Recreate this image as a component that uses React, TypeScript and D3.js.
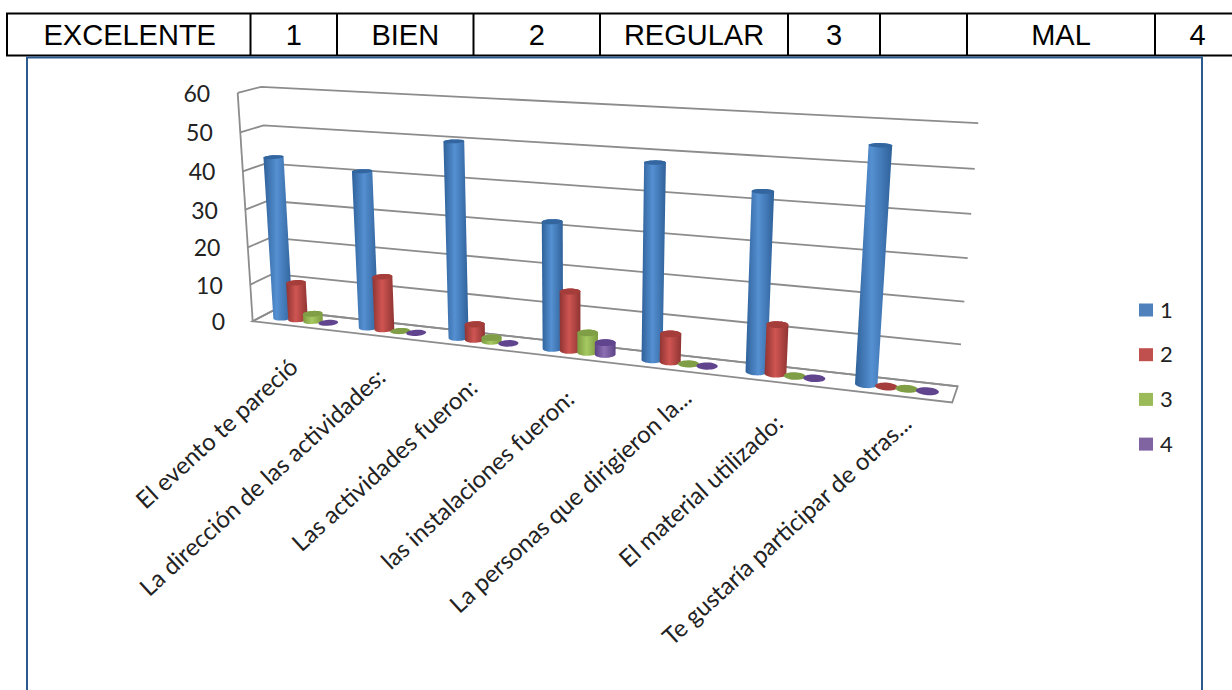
import React from "react";
import * as d3 from "d3";

const headerLabels = ["EXCELENTE", "1", "BIEN", "2", "REGULAR", "3", "", "MAL", "4"];
const categories = [
  "El evento te pareció",
  "La dirección de las actividades:",
  "Las actividades fueron:",
  "las instalaciones fueron:",
  "La personas que dirigieron la...",
  "El material utilizado:",
  "Te gustaría participar de otras...",
];
const seriesNames = ["1", "2", "3", "4"];
const series1 = [43, 41, 50, 32, 48, 43, 55];
const series2 = [10, 14, 4, 15, 7, 12, 0];
const series3 = [2, 0, 1, 5, 0, 0, 0];
const series4 = [0, 0, 0, 3, 0, 0, 0];
const allSeries = [series1, series2, series3, series4];
const valueTicks = [0, 10, 20, 30, 40, 50, 60];

const colors = [
  { edge: "#2f6199", mid: "#5590d2", top: "#33669f", flat: "#33669f" },
  { edge: "#8f3432", mid: "#cf5552", top: "#a53e3b", flat: "#a53e3b" },
  { edge: "#7c9a3f", mid: "#a6c962", top: "#7f9e45", flat: "#7f9e45" },
  { edge: "#5c4285", mid: "#8d70b4", top: "#60448e", flat: "#60448e" },
];
const legendColors = ["#4f81bd", "#c0504d", "#9bbb59", "#8064a2"];

const W = 1232;
const H = 690;
const tableEdges = [7, 250.5, 337, 473.5, 600, 788, 880, 967, 1155, 1240];

const catScale = d3.scaleLinear().domain([0, categories.length]).range([0, 1]);
const valScale = d3.scaleLinear().domain([0, 60]).range([0, 1]);

// camera calibration: [category pos, value, depth] -> screen pixel
const calib: [number, number, number, number, number][] = [
  [0, 0, 0, 253, 321], [0, 10, 0, 251, 285], [0, 20, 0, 249, 247], [0, 30, 0, 246, 210],
  [0, 40, 0, 243, 171], [0, 50, 0, 239, 132], [0, 60, 0, 236, 93],
  [0, 0, 1, 273, 310], [0, 60, 1, 263, 87],
  [7, 0, 1, 958, 386], [7, 10, 1, 961, 344], [7, 20, 1, 964, 302], [7, 30, 1, 968, 258],
  [7, 40, 1, 971, 214], [7, 50, 1, 975, 169], [7, 60, 1, 978, 123],
  [7, 0, 0, 952, 403],
];

function solve(A: number[][], b: number[]) {
  const n = b.length;
  const M = A.map((r, i) => [...r, b[i]]);
  for (let c = 0; c < n; c++) {
    let p = c;
    for (let r = c + 1; r < n; r++) if (Math.abs(M[r][c]) > Math.abs(M[p][c])) p = r;
    [M[c], M[p]] = [M[p], M[c]];
    for (let r = 0; r < n; r++) {
      if (r === c) continue;
      const f = M[r][c] / M[c][c];
      for (let k = c; k <= n; k++) M[r][k] -= f * M[c][k];
    }
  }
  return M.map((r, i) => r[n] / r[i]);
}

function fitCamera() {
  const rows: number[][] = [];
  const rhs: number[] = [];
  for (const [u, v, d, px, py] of calib) {
    const X = catScale(u), Y = valScale(v), Z = d;
    rows.push([X, Y, Z, 1, 0, 0, 0, 0, -px * X, -px * Y, -px * Z]);
    rhs.push(px);
    rows.push([0, 0, 0, 0, X, Y, Z, 1, -py * X, -py * Y, -py * Z]);
    rhs.push(py);
  }
  const n = 11;
  const A = d3.range(n).map((i) => d3.range(n).map((j) => d3.sum(rows, (r) => r[i] * r[j])));
  const b = d3.range(n).map((i) => d3.sum(rows, (r, k) => r[i] * rhs[k]));
  return solve(A, b);
}
const cam = fitCamera();

function project(u: number, v: number, d: number): [number, number] {
  const X = catScale(u), Y = valScale(v), Z = d;
  const w = cam[8] * X + cam[9] * Y + cam[10] * Z + 1;
  return [
    (cam[0] * X + cam[1] * Y + cam[2] * Z + cam[3]) / w,
    (cam[4] * X + cam[5] * Y + cam[6] * Z + cam[7]) / w,
  ];
}

const line = d3.line();
const closed = d3.line().curve(d3.curveLinearClosed);
const barStep = 0.178;
const barStart = 0.23;
const radU = 0.098;
const radD = 0.24;
const centerD = 0.5;
const theta = d3.range(0, 2 * Math.PI, Math.PI / 18);

function ring(u: number, v: number): [number, number][] {
  return theta.map((t) => project(u + radU * Math.cos(t), v, centerD + radD * Math.sin(t)));
}

const gridStroke = "#8c8c8c";
const labelFont = "Lato, 'Open Sans', sans-serif";

export default function App() {
  const nCat = categories.length;
  return (
    <svg width={W} height={H} viewBox={`0 0 ${W} ${H}`} style={{ position: "absolute", left: 0, top: 0, display: "block", background: "#fff" }}>
      <defs>
        {colors.map((c, i) => (
          <linearGradient key={i} id={`g${i}`} x1="0" x2="1" y1="0" y2="0">
            <stop offset="0" stopColor={c.edge} />
            <stop offset="0.45" stopColor={c.mid} />
            <stop offset="1" stopColor={c.edge} />
          </linearGradient>
        ))}
      </defs>

      {/* header table */}
      <g fontFamily="'Liberation Sans', Arial, sans-serif" fontSize={29} fill="#000">
        <line x1={6} x2={W} y1={13.5} y2={13.5} stroke="#000" strokeWidth={2} />
        <line x1={6} x2={W} y1={55.5} y2={55.5} stroke="#000" strokeWidth={2} />
        {tableEdges.slice(0, -1).map((x) => (
          <line key={x} x1={x} x2={x} y1={13} y2={56} stroke="#000" strokeWidth={2} />
        ))}
        {headerLabels.map((t, i) => (
          <text key={i} x={(tableEdges[i] + tableEdges[i + 1]) / 2 + (i === 0 ? 1 : 0)} y={44.5} textAnchor="middle">{t}</text>
        ))}
      </g>

      {/* chart frame */}
      <rect x={27} y={57.5} width={1175} height={H + 20} fill="#fff" stroke="#2b5a90" strokeWidth={2} />

      {/* gridlines */}
      <g fill="none" stroke={gridStroke} strokeWidth={1.8}>
        {valueTicks.map((v) => (
          <path key={v} d={line([project(0, v, 0), project(0, v, 1), project(nCat, v, 1)]) ?? ""} />
        ))}
        <path d={line([project(0, 0, 0), project(0, 60, 0)]) ?? ""} />
        <path d={closed([project(0, 0, 0), project(nCat, 0, 0), project(nCat, 0, 1), project(0, 0, 1)]) ?? ""} />
      </g>

      {/* value labels */}
      <g fontFamily={labelFont} fontSize={23} fill="#222" textAnchor="end">
        {valueTicks.map((v) => {
          const [x, y] = project(0, v, 0);
          return <text key={v} x={x - 27.5} y={y + 9}>{v}</text>;
        })}
      </g>

      {/* cylinders */}
      {categories.map((_, i) => (
        <g key={i}>
          {allSeries.map((vals, j) => {
            const u = i + barStart + j * barStep;
            const v = vals[i];
            const bottom = ring(u, 0);
            const top = ring(u, v);
            const hull = d3.polygonHull([...bottom, ...top]) ?? [];
            return (
              <g key={j}>
                {v > 0 && <path d={closed(hull) ?? ""} fill={`url(#g${j})`} />}
                <path d={closed(top) ?? ""} fill={v > 0 ? colors[j].top : colors[j].flat} />
              </g>
            );
          })}
        </g>
      ))}

      {/* category labels */}
      <g fontFamily={labelFont} fontSize={24} fill="#222" textAnchor="end">
        {categories.map((c, i) => {
          const [x, y] = project(i + 0.5, 0, 0);
          const cut = c.endsWith("...");
          return <text key={c} transform={`translate(${x + (cut ? 20 : 4.5)},${y + (cut ? 30 : 43)}) rotate(-42.5)`}>{c}</text>;
        })}
      </g>

      {/* legend */}
      <g fontFamily={labelFont} fontSize={22} fill="#222">
        {seriesNames.map((s, i) => {
          const y = 310 + i * 44.7;
          return (
            <g key={s}>
              <rect x={1139} y={y - 6.5} width={14} height={13} fill={legendColors[i]} />
              <text x={1160} y={y + 7.5}>{s}</text>
            </g>
          );
        })}
      </g>
    </svg>
  );
}
